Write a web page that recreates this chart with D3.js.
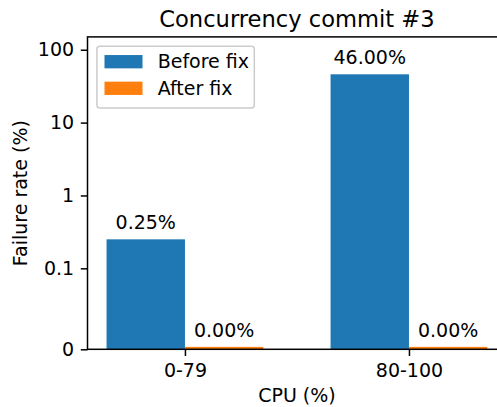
<!DOCTYPE html>
<html>
<head>
<meta charset="utf-8">
<script src="https://cdn.jsdelivr.net/npm/d3@7"></script>
<style>
  html, body { margin: 0; padding: 0; background: #fff; overflow: hidden; }
  svg { display: block; font-family: "DejaVu Sans", sans-serif; }
</style>
</head>
<body>
<svg id="chart" width="497" height="407"></svg>
<script>
// Failure rates per CPU load bucket, before and after the concurrency fix
const categories = ["0-79", "80-100"];
const seriesNames = ["Before fix", "After fix"];
const beforeFix = [0.25, 46.0];
const afterFix = [0.003, 0.003];
const yTickValues = [0, 0.1, 1, 10, 100];
const yTickLabels = ["0", "0.1", "1", "10", "100"];

const colors = ["#1f77b4", "#ff7f0e"];
const FS = 19;
const LW = 1.5;

const svg = d3.select("#chart");

// Axes frame (the right edge runs past the visible area)
const frame = { left: 87.5, right: 506.4, top: 36.9, bottom: 349.3 };

// Symmetric log transform: linear below linthresh, log10 above it
const linthresh = 0.1, linscale = 1;
const linscaleAdj = linscale / (1 - 1 / 10);
function fwd(v) {
  const a = Math.abs(v);
  if (a <= linthresh) return v * linscaleAdj;
  return Math.sign(v) * linthresh * (linscaleAdj + Math.log10(a / linthresh));
}
function inv(t) {
  const a = Math.abs(t);
  if (a <= linthresh * linscaleAdj) return t / linscaleAdj;
  return Math.sign(t) * linthresh * Math.pow(10, a / linthresh - linscaleAdj);
}
function symlogScale(lin) {
  const s = v => lin(fwd(v));
  s.domain = () => lin.domain().map(inv);
  s.range = () => lin.range();
  s.copy = () => symlogScale(lin.copy());
  return s;
}

const yMax = 150;
const y = symlogScale(d3.scaleLinear().domain([fwd(0), fwd(yMax)]).range([frame.bottom, frame.top]));

const barWidth = 0.35;
const x = d3.scaleLinear()
  .domain([-barWidth - 0.085, categories.length - 1 + barWidth + 0.085])
  .range([frame.left, frame.right]);

const series = [beforeFix, afterFix];

// Bars: first series left of the category tick, second series right of it
series.forEach((vals, si) => {
  svg.append("g").selectAll("rect")
    .data(vals)
    .join("rect")
    .attr("x", (d, i) => x(si === 0 ? i - barWidth : i))
    .attr("width", x(barWidth) - x(0))
    .attr("y", d => y(d))
    .attr("height", d => y(0) - y(d))
    .attr("fill", colors[si]);

  // Value labels above each bar
  svg.append("g").selectAll("text")
    .data(vals)
    .join("text")
    .attr("x", (d, i) => x(si === 0 ? i - barWidth / 2 : i + barWidth / 2))
    .attr("y", d => y(d) - 10)
    .attr("text-anchor", "middle")
    .attr("font-size", FS)
    .attr("fill", "#000")
    .text(d => d3.format(".2f")(d) + "%");
});

// Axes box
svg.append("rect")
  .attr("x", frame.left).attr("y", frame.top)
  .attr("width", frame.right - frame.left).attr("height", frame.bottom - frame.top)
  .attr("fill", "none").attr("stroke", "#000").attr("stroke-width", LW);

// Y axis
const yAxis = svg.append("g")
  .attr("transform", `translate(${frame.left},0)`)
  .call(d3.axisLeft(y).tickValues(yTickValues)
    .tickFormat((d, i) => yTickLabels[i]).tickSize(6.7).tickPadding(6.7));
yAxis.select(".domain").remove();
yAxis.selectAll("line").attr("stroke-width", LW);
yAxis.selectAll("text").attr("font-size", FS).attr("font-family", "DejaVu Sans").attr("fill", "#000");

// X axis
const xAxis = svg.append("g")
  .attr("transform", `translate(0,${frame.bottom})`)
  .call(d3.axisBottom(x).tickValues(d3.range(categories.length))
    .tickFormat(i => categories[i]).tickSize(6.7).tickPadding(7.2));
xAxis.select(".domain").remove();
xAxis.selectAll("line").attr("stroke-width", LW);
xAxis.selectAll("text").attr("font-size", FS).attr("font-family", "DejaVu Sans").attr("fill", "#000");

// Axis titles
svg.append("text")
  .attr("x", (frame.left + frame.right) / 2).attr("y", 401.7)
  .attr("text-anchor", "middle").attr("font-size", FS)
  .text("CPU (%)");

svg.append("text")
  .attr("transform", `translate(27,${(frame.top + frame.bottom) / 2}) rotate(-90)`)
  .attr("text-anchor", "middle").attr("font-size", FS)
  .text("Failure rate (%)");

// Title
svg.append("text")
  .attr("x", (frame.left + frame.right) / 2).attr("y", 26.6)
  .attr("text-anchor", "middle").attr("font-size", 22.6)
  .text("Concurrency commit #3");

// Legend
const legend = svg.append("g");
legend.append("rect")
  .attr("x", 96.9).attr("y", 46.3).attr("width", 157.4).attr("height", 61.7)
  .attr("rx", 3).attr("fill", "#fff").attr("fill-opacity", 0.8)
  .attr("stroke", "#cccccc").attr("stroke-width", LW);
seriesNames.forEach((name, i) => {
  const cy = 61.7 + i * 26.6;
  legend.append("rect")
    .attr("x", 104.5).attr("y", cy - 6.65).attr("width", 38).attr("height", 13.3)
    .attr("fill", colors[i]);
  legend.append("text")
    .attr("x", 157.7).attr("y", cy + 6.6)
    .attr("font-size", FS)
    .text(name);
});
</script>
</body>
</html>
